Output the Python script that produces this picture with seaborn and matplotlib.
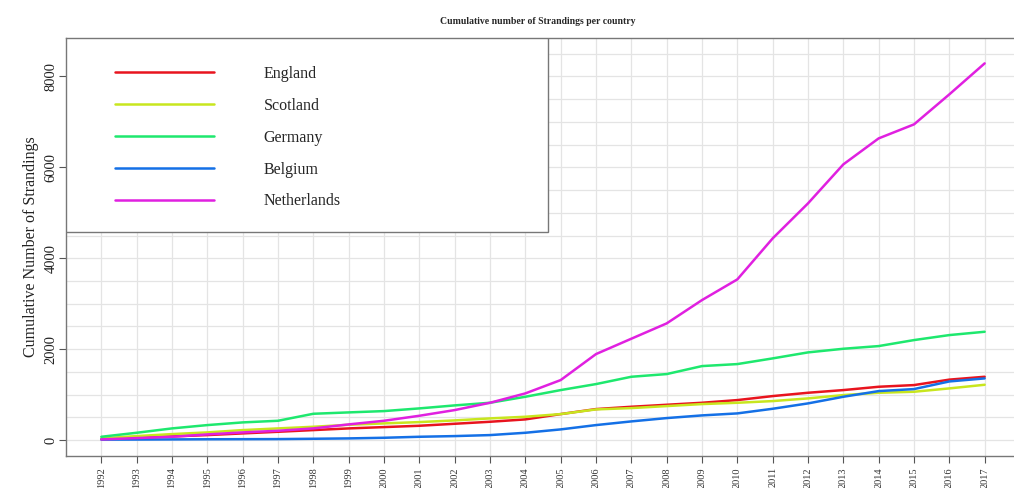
import numpy as np
import pandas as pd
import matplotlib
matplotlib.use("Agg")
import matplotlib.pyplot as plt
from matplotlib.patches import Rectangle
from matplotlib.ticker import MultipleLocator
import seaborn as sns

years = list(range(1992, 2018))
countries = ["England", "Scotland", "Germany", "Belgium", "Netherlands"]

england = [22, 51, 81, 110, 147, 183, 220, 257, 286, 315, 359, 403, 455,
           572, 682, 733, 777, 821, 880, 968, 1041, 1100, 1173, 1210, 1330, 1393]
scotland = [37, 88, 132, 169, 220, 257, 293, 337, 367, 396, 433, 477, 513,
            572, 675, 704, 748, 792, 821, 858, 917, 990, 1041, 1063, 1137, 1217]
germany = [73, 161, 257, 330, 389, 425, 579, 609, 638, 697, 763, 821, 953,
           1100, 1232, 1393, 1452, 1628, 1672, 1797, 1929, 2009, 2068, 2200, 2310, 2383]
belgium = [10, 12, 15, 18, 20, 22, 29, 37, 51, 73, 88, 110, 161,
           235, 330, 411, 484, 543, 587, 689, 807, 953, 1078, 1122, 1290, 1357]
netherlands = [15, 44, 73, 125, 169, 205, 257, 345, 425, 535, 660, 821, 1027,
               1320, 1892, 2230, 2567, 3080, 3535, 4437, 5207, 6065, 6637, 6945, 7605, 8287]

colors = ["#e8141e", "#c8e61e", "#1ee86e", "#1470e6", "#e020e0"]

df = pd.DataFrame({
    "Year": years * 5,
    "Country": np.repeat(countries, len(years)),
    "Strandings": england + scotland + germany + belgium + netherlands,
})

sns.set_theme(style="white")
plt.rcParams["font.family"] = ["Liberation Serif", "DejaVu Serif"]

fig = plt.figure(figsize=(10.14, 4.88), dpi=100)
ax = fig.add_axes([66 / 1014, 32 / 488, 954 / 1014, 418 / 488])

sns.lineplot(data=df, x="Year", y="Strandings", hue="Country", hue_order=countries,
             palette=colors, linewidth=1.8, ax=ax, legend=True, zorder=2)

ax.set_xlim(1991, 2018)
ax.set_ylim(-350, 8845)
ax.set_xticks(years)
ax.set_xticklabels([str(y) for y in years], rotation=90, fontsize=7.5, color="#333333")
ax.set_yticks([0, 2000, 4000, 6000, 8000])
ax.set_yticklabels(["0", "2000", "4000", "6000", "8000"], rotation=90, va="center",
                   fontsize=10.5, color="#222222")
ax.yaxis.set_minor_locator(MultipleLocator(500))
ax.grid(True, which="both", axis="y", color="#e4e4e4", linewidth=0.9, zorder=0)
ax.grid(True, which="major", axis="x", color="#e4e4e4", linewidth=0.9, zorder=0)
ax.tick_params(axis="both", which="major", direction="out", length=5, width=0.8,
               color="#555555", bottom=True, left=True, pad=3)
ax.tick_params(axis="y", which="major", pad=1)
ax.tick_params(axis="y", which="minor", length=0)
ax.set_axisbelow(True)

for s in ax.spines.values():
    s.set_color("#777777")
    s.set_linewidth(1.0)

ax.set_xlabel("")
ax.set_ylabel("Cumulative Number of Strandings", fontsize=11.5, color="#222222", labelpad=4)
ax.set_title("Cumulative number of Strandings per country", fontsize=7, fontweight="bold",
             pad=10, x=0.495)

# legend box
ax.add_patch(Rectangle((1991, 4576), 13.64, 8845 - 4576, facecolor="white",
                       edgecolor="#777777", linewidth=1.0, zorder=3))
handles, labels = ax.get_legend_handles_labels()
leg = ax.legend(handles, labels, loc="upper left", bbox_to_anchor=(0.0514, 0.934),
                frameon=False, fontsize=11.5, handlelength=6.2, handletextpad=3.1,
                labelspacing=1.0, borderpad=0, borderaxespad=0)
leg.set_zorder(4)
for line in leg.get_lines():
    line.set_linewidth(1.8)

fig.savefig("out.png", dpi=100)
